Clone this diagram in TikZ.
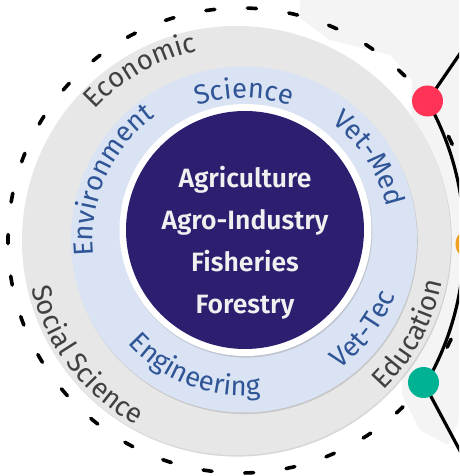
\documentclass[tikz,border=0pt]{standalone}
\usepackage{fontspec}
\setmainfont{Fira Sans}
\newfontfamily\corefont{Fira Sans SemiBold}
\usepackage{tikz}
\usetikzlibrary{decorations.text,shadows}

\definecolor{coreblue}{RGB}{45,30,112}
\definecolor{ringblue}{RGB}{218,227,243}
\definecolor{ringgray}{RGB}{231,231,231}
\definecolor{textblue}{RGB}{47,85,151}
\definecolor{textgray}{RGB}{64,64,64}
\definecolor{dotred}{RGB}{255,51,85}
\definecolor{dotgreen}{RGB}{0,178,148}
\definecolor{dotorange}{RGB}{240,160,32}
\definecolor{mapgray}{RGB}{244,244,244}

\newcommand{\ringfont}{\fontsize{27.5}{27.5}\selectfont}

\begin{document}
\begin{tikzpicture}[
    x=1pt, y=1pt,
    disc/.style={draw=none, drop shadow={shadow xshift=0.8pt, shadow yshift=-1.6pt, opacity=0.3}},
    arclabel/.style 2 args={decorate, decoration={text along path, text align=center,
        text color=#1, text={|\ringfont|#2}}},
    coretext/.style={anchor=base, text=white!94!black, font=\fontsize{26.5}{26.5}\selectfont\corefont},
    dot/.style={circle, minimum size=31pt, inner sep=0pt},
    link/.style={draw=black, line width=3.2pt},
    ring dash/.style={line width=3.6pt, line cap=round, dash pattern=on 9pt off 32.7pt, dash phase=26pt}
]
    \useasboundingbox (0,0) rectangle (459,476);
    \clip (0,0) rectangle (459,476);
    \fill[white] (0,0) rectangle (459,476);

    % faint map in the background
    \fill[mapgray] (300,476) -- (459,476) -- (459,56) -- (448,31) -- (420,46) -- (402,81)
        -- (412,396) -- (390,421) -- (330,436) -- (300,458) -- cycle;

    % outer dashed ring
    \draw[ring dash] (240.5,235.5) circle[radius=232.5];

    % network on the right
    \coordinate (redpt) at (427.5,375);
    \coordinate (greenpt) at (423.5,93.5);
    \coordinate (redout) at (470,437);
    \coordinate (greenout) at (470,6.5);
    \draw[link] (redpt) arc[start angle=29.4, end angle=-30.1, radius=285];
    \draw[link] (redpt) -- (redout);
    \draw[link] (greenpt) -- (greenout);
    \node[dot, fill=dotred] (reddot) at (redpt) {};
    \node[dot, fill=dotgreen] (greendot) at (greenpt) {};
    \node[dot, fill=dotorange] (orangedot) at (471,232) {};

    % rings
    \fill[disc, ringgray] (236.5,235.5) circle[radius=214.5];
    \fill[disc, ringblue] (244,236.5) circle[radius=173];
    \fill[disc, white] (245.5,246) circle[radius=126];
    \fill[coreblue] (245,246) circle[radius=119];

    % outer ring labels
    \path[arclabel={textgray}{Economic}] (236.5,235.5) ++(179.5:193) arc[start angle=179.5, end angle=59.5, radius=193];
    \path[arclabel={textgray}{Social Science}] (236.5,235.5) ++(157.4:210) arc[start angle=157.4, end angle=277.4, radius=210];
    \path[arclabel={textgray}{Education}] (236.5,235.5) ++(-88.5:210) arc[start angle=-88.5, end angle=31.5, radius=210];

    % inner ring labels
    \path[arclabel={textblue}{Science}] (244,236.5) ++(150:141.5) arc[start angle=150, end angle=30, radius=141.5];
    \path[arclabel={textblue}{Vet-Med}] (244,236.5) ++(93:146) arc[start angle=93, end angle=-27, radius=146];
    \path[arclabel={textblue}{Environment}] (244,236.5) ++(216:151) arc[start angle=216, end angle=96, radius=151];
    \path[arclabel={textblue}{Vet-Tec}] (244,236.5) ++(-97:161) arc[start angle=-97, end angle=23, radius=161];
    \path[arclabel={textblue}{Engineering}] (244,236.5) ++(189:156) arc[start angle=189, end angle=309, radius=156];

    % core
    \foreach \word [count=\i] in {Agriculture, Agro-Industry, Fisheries, Forestry}
        \node[coretext] (core\i) at (245,{330-42*\i}) {\word};
\end{tikzpicture}
\end{document}
